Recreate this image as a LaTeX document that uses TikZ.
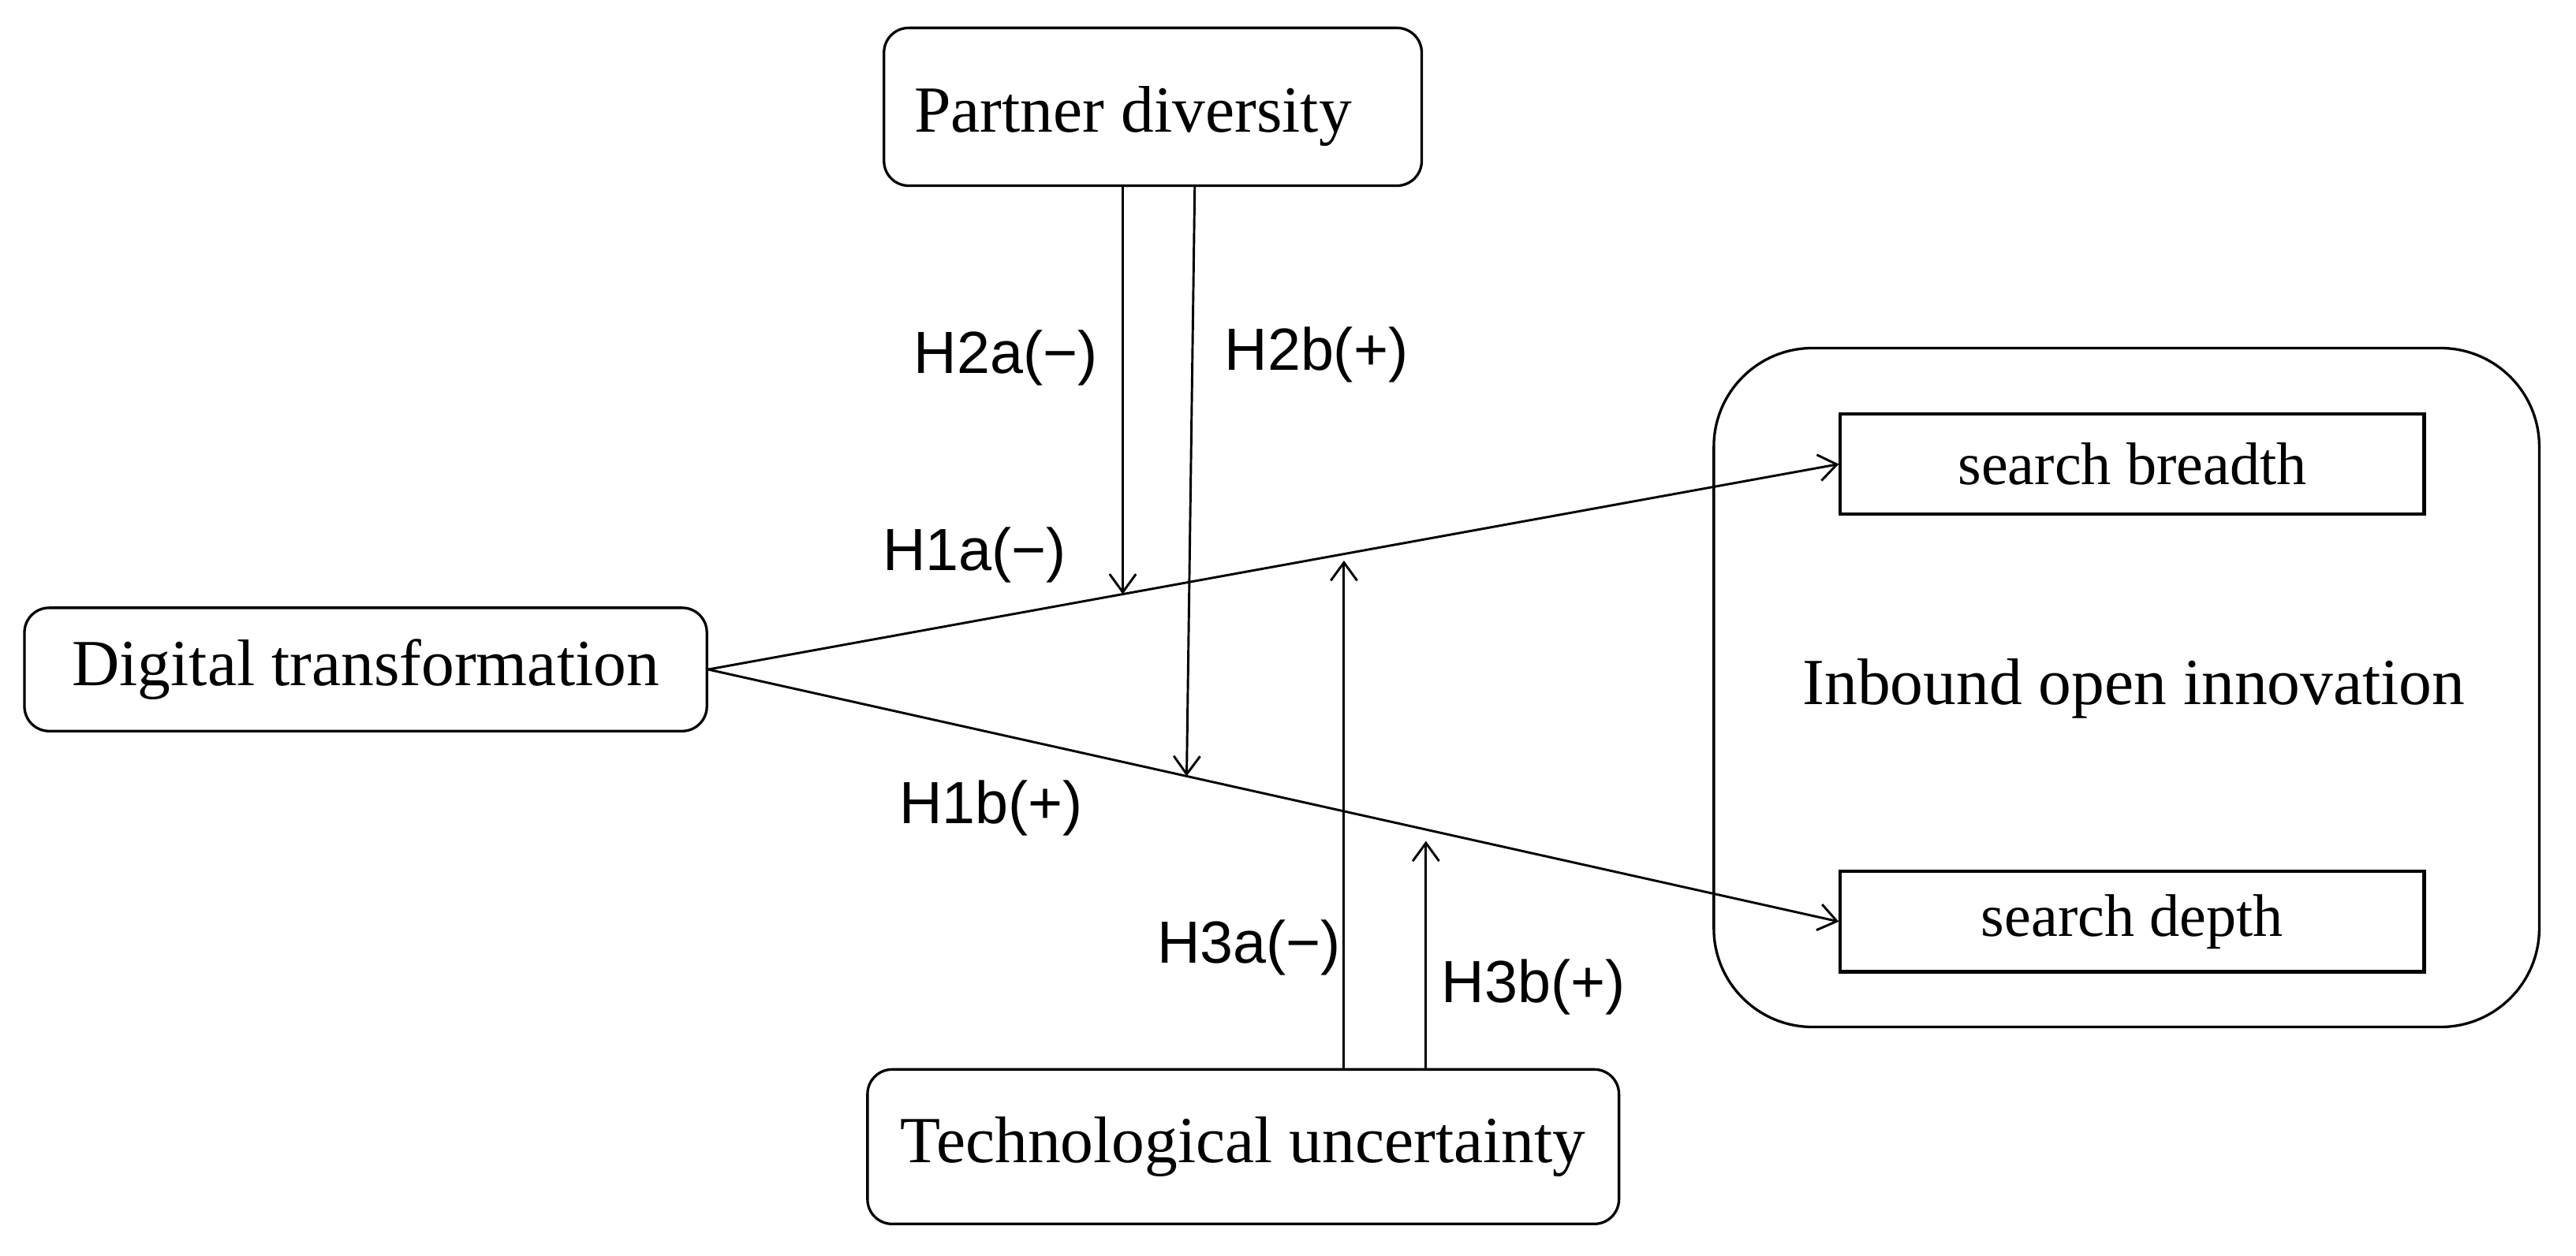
\documentclass[tikz,border=0pt]{standalone}
\usepackage{fontspec}
\setmainfont{Liberation Serif}
\newfontfamily\labfont{Liberation Sans}
\usetikzlibrary{arrows.meta,calc}
\begin{document}
\begin{tikzpicture}[x=0.01cm,y=-0.01cm,
  rbox/.style={draw,line width=0.9pt,rounded corners=0.3cm,inner sep=0pt,font=\fontsize{22.8pt}{26pt}\selectfont},
  sbox/.style={draw,line width=1.1pt,inner sep=0pt,minimum width=7.1cm,minimum height=1.22cm,font=\fontsize{20.8pt}{24pt}\selectfont},
  bigtext/.style={font=\fontsize{22.8pt}{26pt}\selectfont,inner sep=0pt},
  conn/.style={line width=0.8pt,-{Straight Barb[length=0.22cm,width=0.32cm,line width=0.8pt]}},
  hlab/.style={font=\labfont\fontsize{20.6pt}{24pt}\selectfont,inner sep=0pt}]
\useasboundingbox (0,0) rectangle (3135,1529);
\node[rbox,minimum width=6.54cm,minimum height=1.92cm] (pd) at (1403,130) {};
\node[bigtext] (pdt) at (1379,142) {Partner diversity};
\node[rbox,minimum width=8.3cm,minimum height=1.5cm] (dt) at (445,815) {Digital transformation};
\node[rbox,minimum width=9.14cm,minimum height=1.88cm] (tu) at (1513,1396) {Technological uncertainty};
\node[draw,line width=0.9pt,rounded corners=1.2cm,minimum width=10.04cm,minimum height=8.26cm,inner sep=0pt] (ioi) at (2588,837) {};
\node[bigtext] (ioit) at (2597,838) {Inbound open innovation};
\node[sbox] (sb) at (2595,565) {search breadth};
\node[sbox] (sd) at (2595,1122) {search depth};
\draw[conn] (dt.east) -- (sb.west);
\draw[conn] (dt.east) -- (sd.west);
\coordinate (p2a) at ($(dt.east)!0.3667!(sb.west)$);
\coordinate (p2b) at ($(dt.east)!0.4232!(sd.west)$);
\coordinate (p3a) at ($(dt.east)!0.5623!(sb.west)+(0,8)$);
\coordinate (p3b) at ($(dt.east)!0.6348!(sd.west)+(0,14)$);
\coordinate (s2b) at ($(pd.south)+(51,0)$);
\draw[conn] (pd.south -| p2a) -- (p2a);
\draw[conn] (s2b) -- (p2b);
\draw[conn] (tu.north -| p3a) -- (p3a);
\draw[conn] (tu.north -| p3b) -- (p3b);
\node[hlab] (l2a) at (1224,436) {H2a(−)};
\node[hlab] (l2b) at (1602,432) {H2b(+)};
\node[hlab] (l1a) at (1186,676) {H1a(−)};
\node[hlab] (l1b) at (1206,984) {H1b(+)};
\node[hlab] (l3a) at (1520,1154) {H3a(−)};
\node[hlab] (l3b) at (1866,1202) {H3b(+)};
\end{tikzpicture}
\end{document}
